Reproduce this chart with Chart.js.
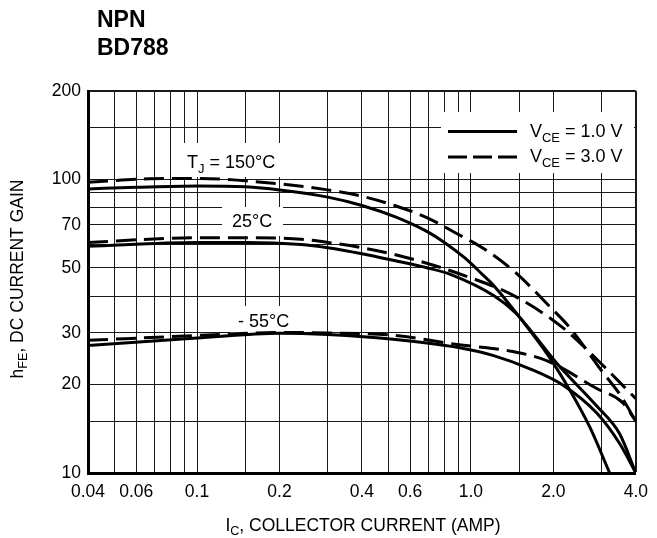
<!DOCTYPE html>
<html>
<head>
<meta charset="utf-8">
<script src="https://cdn.jsdelivr.net/npm/chart.js@4.4.0/dist/chart.umd.min.js"></script>
<style>
  html, body { margin: 0; padding: 0; background: #fff; }
  #wrap { width: 657px; height: 538px; position: relative; }
  canvas { display: block; }
</style>
</head>
<body>
<div id="wrap"><canvas id="gain" width="657" height="538"></canvas></div>
<script>
const FONT = "'Liberation Sans', Arial, Helvetica, sans-serif";

// Collector current (A) and DC current gain, one pair of arrays per curve.
// TJ = 150 °C
const ic150Vce1 = [0.04, 0.06, 0.1, 0.15, 0.2, 0.3, 0.4, 0.53, 0.69, 0.8, 0.95, 1.1, 1.21, 1.54, 1.9, 2.3, 2.72, 3.21];
const hfe150Vce1 = [92.8, 94.0, 95.0, 94.3, 92.0, 87.0, 81.5, 74.5, 66.5, 61.0, 54.0, 47.5, 43.5, 33.0, 25.4, 19.1, 14.3, 10];
const ic150Vce3 = [0.04, 0.067, 0.1, 0.156, 0.3, 0.4, 0.53, 0.69, 0.89, 1.13, 1.46, 1.95, 2.3, 3.0, 3.5, 4.0];
const hfe150Vce3 = [97.7, 100.5, 100.7, 98.6, 92.1, 87.6, 81.3, 74.1, 65.3, 57.6, 48.0, 36.7, 31.2, 22.3, 18.5, 15];
// TJ = 25 °C
const ic25Vce1 = [0.04, 0.1, 0.15, 0.24, 0.3, 0.4, 0.53, 0.69, 0.85, 1.21, 1.46, 1.58, 2.07, 2.88, 3.49, 4.0];
const hfe25Vce1 = [59.2, 61.0, 61.0, 60.0, 58.5, 55.8, 52.8, 50.0, 47.3, 40.2, 35.0, 32.2, 23.5, 16.9, 13.6, 10];
const ic25Vce3 = [0.04, 0.1, 0.16, 0.24, 0.3, 0.4, 0.53, 0.69, 0.89, 1.44, 2.17, 3.0, 4.0];
const hfe25Vce3 = [61.0, 63.3, 63.3, 62.5, 61.0, 58.5, 55.4, 51.8, 48.0, 40.1, 31.2, 23.5, 17.9];
// TJ = -55 °C
const icM55Vce1 = [0.04, 0.1, 0.2, 0.3, 0.53, 0.89, 1.21, 1.65, 2.17, 2.88, 3.49, 4.0];
const hfeM55Vce1 = [27.2, 28.8, 29.9, 29.6, 28.5, 26.8, 25.1, 22.6, 19.9, 16.0, 12.6, 10];
const icM55Vce3 = [0.04, 0.1, 0.2, 0.3, 0.53, 0.89, 1.4, 1.9, 2.88, 3.57, 4.0];
const hfeM55Vce3 = [28.3, 29.4, 30.1, 30.0, 29.4, 27.4, 26.0, 24.1, 19.4, 17.4, 15];

// Grid lines and labelled ticks
const xGridValues = [0.04, 0.05, 0.06, 0.07, 0.08, 0.09, 0.1, 0.15, 0.2, 0.3, 0.4, 0.5, 0.6, 0.7, 0.8, 0.9, 1, 1.5, 2, 3, 4];
const xTickValues = [0.04, 0.06, 0.1, 0.2, 0.4, 0.6, 1, 2, 4];
const xTickLabels = ['0.04', '0.06', '0.1', '0.2', '0.4', '0.6', '1.0', '2.0', '4.0'];
const yGridValues = [10, 15, 20, 30, 40, 50, 60, 70, 80, 90, 100, 150, 200];
const yTickValues = [10, 20, 30, 50, 70, 100, 200];
const yTickLabels = ['10', '20', '30', '50', '70', '100', '200'];

const legendLabels = ['1.0 V', '3.0 V'];
const tempLabels = ['150°C', '25°C', '- 55°C'];

function labelFor(v, values, labels) {
  const i = values.findIndex(t => Math.abs(t - v) / t < 1e-6);
  return i >= 0 ? labels[i] : '';
}

function curve(xs, ys, dashed) {
  return {
    data: xs.map((x, i) => ({ x: x, y: ys[i] })),
    borderColor: '#000',
    borderWidth: 3,
    borderDash: dashed ? [20, 8] : [],
    pointRadius: 0,
    fill: false,
    cubicInterpolationMode: 'monotone',
    borderCapStyle: 'butt'
  };
}

// draws a run of text pieces, some of them as subscripts
function drawRich(ctx, parts, x, y, size, align) {
  let w = 0;
  parts.forEach(([t, sub]) => {
    ctx.font = (sub ? size * 0.72 : size) + 'px ' + FONT;
    w += ctx.measureText(t).width;
  });
  let cx = align === 'center' ? x - w / 2 : (align === 'right' ? x - w : x);
  ctx.textAlign = 'left';
  ctx.textBaseline = 'alphabetic';
  parts.forEach(([t, sub]) => {
    ctx.font = (sub ? size * 0.72 : size) + 'px ' + FONT;
    ctx.fillText(t, cx, sub ? y + size * 0.25 : y);
    cx += ctx.measureText(t).width;
  });
}

const annotations = {
  id: 'annotations',
  beforeDatasetsDraw(chart) {
    const ctx = chart.ctx;
    ctx.save();
    ctx.fillStyle = '#fff';
    // white patches behind the in-plot labels and the key
    ctx.fillRect(182, 143, 101, 34);
    ctx.fillRect(222, 207, 61, 29);
    ctx.fillRect(230, 306, 68, 28);
    ctx.fillRect(441, 112, 193, 61);
    ctx.fillStyle = '#000';
    drawRich(ctx, [['T', false], ['J', true], [' = ' + tempLabels[0], false]], 187, 168, 18, 'left');
    drawRich(ctx, [[tempLabels[1], false]], 232, 227, 18, 'left');
    drawRich(ctx, [[tempLabels[2], false]], 238, 327, 18, 'left');
    // key
    ctx.strokeStyle = '#000';
    ctx.lineWidth = 3;
    ctx.beginPath();
    ctx.moveTo(448, 131.5); ctx.lineTo(517, 131.5);
    ctx.stroke();
    ctx.setLineDash([19, 6]);
    ctx.beginPath();
    ctx.moveTo(448, 157); ctx.lineTo(517, 157);
    ctx.stroke();
    ctx.setLineDash([]);
    drawRich(ctx, [['V', false], ['CE', true], [' = ' + legendLabels[0], false]], 530, 137, 18, 'left');
    drawRich(ctx, [['V', false], ['CE', true], [' = ' + legendLabels[1], false]], 530, 162, 18, 'left');
    ctx.restore();
  },
  afterDraw(chart) {
    const ctx = chart.ctx;
    ctx.save();
    ctx.fillStyle = '#000';
    ctx.font = 'bold 23px ' + FONT;
    ctx.textAlign = 'left';
    ctx.textBaseline = 'alphabetic';
    ctx.fillText('NPN', 97, 27);
    ctx.fillText('BD788', 97, 55);
    // axis titles
    drawRich(ctx, [['I', false], ['C', true], [', COLLECTOR CURRENT (AMP)', false]], 363, 531, 17.5, 'center');
    ctx.translate(17, 279);
    ctx.rotate(-Math.PI / 2);
    drawRich(ctx, [['h', false], ['FE', true], [', DC CURRENT GAIN', false]], 0, 6, 17.5, 'center');
    ctx.restore();
  }
};

new Chart(document.getElementById('gain'), {
  type: 'line',
  data: {
    datasets: [
      curve(ic150Vce1, hfe150Vce1, false),
      curve(ic150Vce3, hfe150Vce3, true),
      curve(ic25Vce1, hfe25Vce1, false),
      curve(ic25Vce3, hfe25Vce3, true),
      curve(icM55Vce1, hfeM55Vce1, false),
      curve(icM55Vce3, hfeM55Vce3, true)
    ]
  },
  options: {
    responsive: false,
    animation: false,
    devicePixelRatio: 1,
    layout: { padding: { left: 0, top: 91, right: 21, bottom: 0 } },
    plugins: { legend: { display: false }, tooltip: { enabled: false } },
    scales: {
      x: {
        type: 'logarithmic',
        min: 0.04,
        max: 4,
        afterBuildTicks: s => { s.ticks = xGridValues.map(v => ({ value: v })); },
        afterFit: s => { s.height = 65; },
        ticks: {
          autoSkip: false,
          maxRotation: 0,
          color: '#000',
          padding: 9,
          font: { family: FONT, size: 17.5 },
          callback: v => labelFor(v, xTickValues, xTickLabels)
        },
        grid: {
          color: '#1a1a1a',
          lineWidth: c => (c.tick && c.tick.value === 4 ? 2 : 1),
          drawTicks: false
        },
        border: { color: '#000', width: 3 }
      },
      y: {
        type: 'logarithmic',
        min: 10,
        max: 200,
        afterBuildTicks: s => { s.ticks = yGridValues.map(v => ({ value: v })); },
        afterFit: s => { s.width = 88; },
        ticks: {
          autoSkip: false,
          color: '#000',
          padding: 7,
          font: { family: FONT, size: 17.5 },
          callback: v => labelFor(v, yTickValues, yTickLabels)
        },
        grid: {
          color: '#1a1a1a',
          lineWidth: c => (c.tick && c.tick.value === 200 ? 2 : 1),
          drawTicks: false
        },
        border: { color: '#000', width: 3 }
      }
    }
  },
  plugins: [annotations]
});
</script>
</body>
</html>
